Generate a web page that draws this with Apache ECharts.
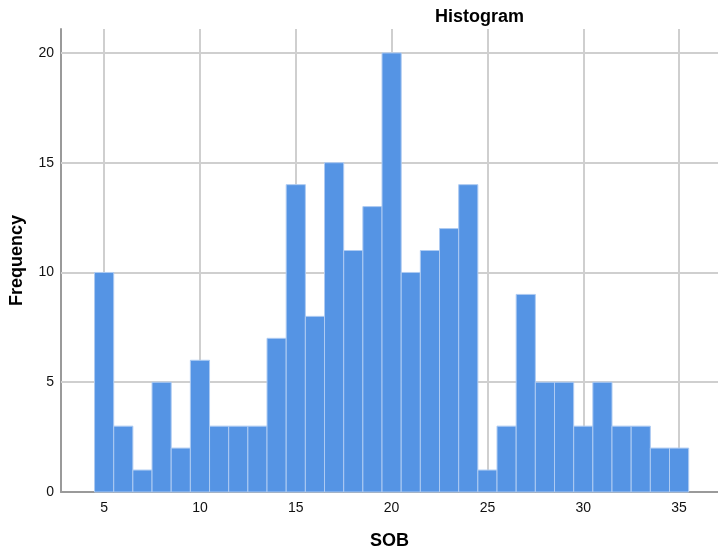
<!DOCTYPE html>
<html><head><meta charset="utf-8">
<script src="https://cdn.jsdelivr.net/npm/echarts@6/dist/echarts.min.js"></script>
<style>html,body{margin:0;padding:0;background:#fff}#c{width:718px;height:552px}</style>
</head><body><div id="c"></div>
<script>
const binCenters = [5,6,7,8,9,10,11,12,13,14,15,16,17,18,19,20,21,22,23,24,25,26,27,28,29,30,31,32,33,34,35];
const frequencies = [10,3,1,5,2,6,3,3,3,7,14,8,15,11,13,20,10,11,12,14,1,3,9,5,5,3,5,3,3,2,2];
const xTicks = [5,10,15,20,25,30,35];
const yTicks = [0,5,10,15,20];
const binWidth = 1;

const chart = echarts.init(document.getElementById('c'));
const font = 'Liberation Sans, Arial, sans-serif';
chart.setOption({
  animation: false,
  title: {text: 'Histogram', left: 430, top: 3,
    textStyle: {fontFamily: font, fontSize: 18, fontWeight: 'bold', color: '#000'}},
  grid: {left: 61, top: 29, right: 0, bottom: 60, outerBoundsMode: 'none', containLabel: false},
  xAxis: {type: 'value', min: 2.75, max: 37.03,
    name: 'SOB', nameLocation: 'middle', nameGap: 40,
    nameTextStyle: {fontFamily: font, fontSize: 18, fontWeight: 'bold', color: '#000'},
    axisLine: {show: true, lineStyle: {color: '#9a9a9a', width: 2}},
    axisTick: {show: false},
    splitLine: {show: false},
    axisLabel: {customValues: xTicks, fontFamily: font, fontSize: 14, color: '#111', margin: 9}
  },
  yAxis: {type: 'value', min: 0, max: 21.09,
    name: 'Frequency', nameLocation: 'middle', nameGap: 35, nameRotate: 90,
    nameTextStyle: {fontFamily: font, fontSize: 18, fontWeight: 'bold', color: '#000'},
    axisLine: {show: true, lineStyle: {color: '#9a9a9a', width: 2}},
    axisTick: {show: false},
    splitLine: {show: false},
    axisLabel: {customValues: yTicks, fontFamily: font, fontSize: 14, color: '#111', margin: 7}
  },
  series: [
    {type: 'line', data: [], z: 1, silent: true,
      markLine: {z: 1, silent: true, symbol: 'none', label: {show: false},
        lineStyle: {color: '#cfcfcf', width: 2, type: 'solid'},
        data: xTicks.map(v => ({xAxis: v})).concat(yTicks.filter(v => v > 0).map(v => ({yAxis: v})))}},
    {type: 'custom', z: 3,
      data: binCenters.map((c, i) => [c, frequencies[i]]),
      renderItem: function (params, api) {
        const c = api.value(0), v = api.value(1);
        const p0 = api.coord([c - binWidth / 2, 0]);
        const p1 = api.coord([c + binWidth / 2, v]);
        return {type: 'rect',
          shape: {x: p0[0], y: p1[1], width: p1[0] - p0[0], height: p0[1] - p1[1]},
          style: {fill: '#5594e4', stroke: '#aecbf2', lineWidth: 1}};
      }}
  ]
});
</script></body></html>
